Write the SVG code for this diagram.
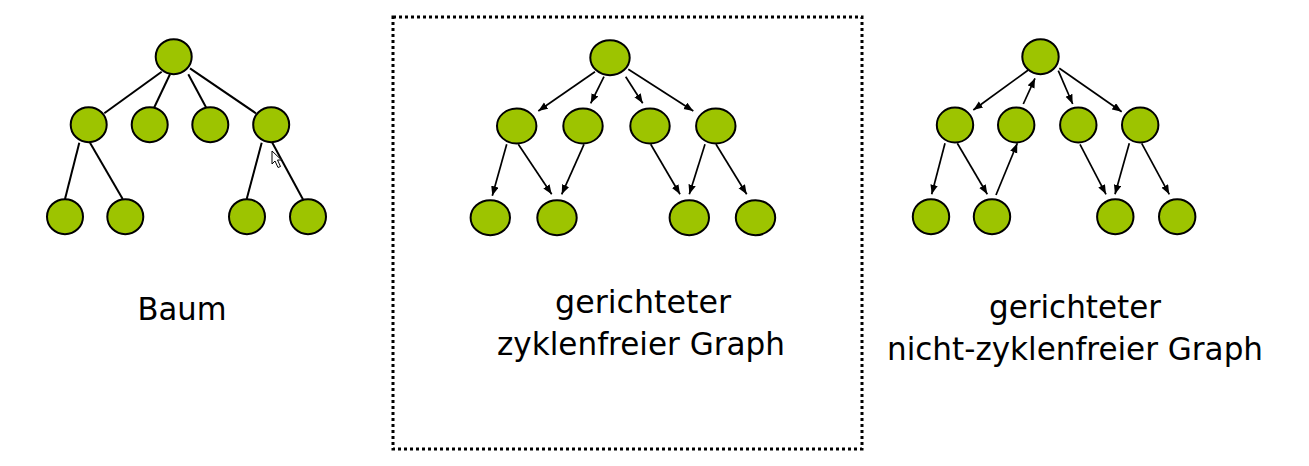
<svg xmlns="http://www.w3.org/2000/svg" width="1309" height="466" viewBox="0 0 1309 466">
<style>
.n{fill:#9dc400;stroke:#000;stroke-width:2}
.e{stroke:#000;stroke-width:2;fill:none}
.d{stroke:#000;stroke-width:1.7;fill:none;marker-end:url(#ah)}
.t{font-family:"DejaVu Sans",Verdana,sans-serif;font-size:32.5px;fill:#000;text-anchor:middle}
</style>
<defs>
<marker id="ah" markerUnits="userSpaceOnUse" markerWidth="11" markerHeight="8" refX="9.5" refY="3.75" orient="auto">
<path d="M0,0 L9.5,3.75 L0,7.5 z" fill="#000"/>
</marker>
</defs>
<rect x="0" y="0" width="1309" height="466" fill="#fff"/>
<rect x="393" y="17" width="469" height="432" fill="none" stroke="#000" stroke-width="3" stroke-dasharray="3 3"/>
<g id="connectors">
<line class="e" x1="161.7" y1="71.7" x2="104.3" y2="113.3"/>
<line class="e" x1="170" y1="74.3" x2="154.3" y2="107.3"/>
<line class="e" x1="188.3" y1="74.3" x2="206" y2="107.3"/>
<line class="e" x1="190" y1="68.3" x2="256" y2="113.3"/>
<line class="e" x1="79.3" y1="142.7" x2="65" y2="199"/>
<line class="e" x1="90" y1="142.7" x2="122.7" y2="199"/>
<line class="e" x1="261.7" y1="142.7" x2="246.7" y2="199"/>
<line class="e" x1="272.3" y1="142.7" x2="303.3" y2="200"/>
<line class="d" x1="595" y1="71.7" x2="538.3" y2="111"/>
<line class="d" x1="604" y1="76.7" x2="590.7" y2="103.3"/>
<line class="d" x1="625.7" y1="76.7" x2="642.7" y2="103.3"/>
<line class="d" x1="628.3" y1="69.3" x2="693.3" y2="111"/>
<line class="d" x1="506.7" y1="144.3" x2="492.3" y2="195.7"/>
<line class="d" x1="518.3" y1="144.3" x2="551.7" y2="194.3"/>
<line class="d" x1="584" y1="144.3" x2="561.7" y2="194.3"/>
<line class="d" x1="650.7" y1="144.3" x2="680" y2="194.3"/>
<line class="d" x1="705" y1="144.3" x2="689.3" y2="194.3"/>
<line class="d" x1="716" y1="144.3" x2="746.7" y2="194.3"/>
<line class="d" x1="1028.3" y1="70" x2="973.3" y2="110"/>
<line class="d" x1="1023.3" y1="104" x2="1035" y2="78.3"/>
<line class="d" x1="1058.3" y1="70.7" x2="1072.7" y2="104"/>
<line class="d" x1="1059.3" y1="68.3" x2="1121.7" y2="111.7"/>
<line class="d" x1="945" y1="143.3" x2="931.7" y2="194.3"/>
<line class="d" x1="957.3" y1="143.3" x2="987.3" y2="194.3"/>
<line class="d" x1="996" y1="195" x2="1017.3" y2="143.3"/>
<line class="d" x1="1080" y1="144.3" x2="1106" y2="194.3"/>
<line class="d" x1="1129.3" y1="143.3" x2="1115" y2="194.3"/>
<line class="d" x1="1141.7" y1="143.3" x2="1169.3" y2="194.3"/>
</g>
<g id="tree">
<g id="t-root"><ellipse class="n" cx="173.7" cy="56.7" rx="18" ry="17.5"/></g>
<g id="t-a"><ellipse class="n" cx="88.7" cy="124.7" rx="18" ry="17.5"/></g>
<g id="t-b"><ellipse class="n" cx="149.7" cy="124.7" rx="18" ry="17.5"/></g>
<g id="t-c"><ellipse class="n" cx="210.3" cy="124.7" rx="18" ry="17.5"/></g>
<g id="t-d"><ellipse class="n" cx="271.2" cy="124.7" rx="18" ry="17.5"/></g>
<g id="t-a1"><ellipse class="n" cx="65" cy="216.7" rx="18" ry="17.5"/></g>
<g id="t-a2"><ellipse class="n" cx="125.3" cy="216.7" rx="18" ry="17.5"/></g>
<g id="t-d1"><ellipse class="n" cx="247" cy="216.7" rx="18" ry="17.5"/></g>
<g id="t-d2"><ellipse class="n" cx="308" cy="216.7" rx="18" ry="17.5"/></g>
</g>
<g id="dag">
<g id="g-root"><ellipse class="n" cx="610" cy="57.7" rx="19.7" ry="17.5"/></g>
<g id="g-a"><ellipse class="n" cx="516.7" cy="126" rx="19.7" ry="17.5"/></g>
<g id="g-b"><ellipse class="n" cx="583" cy="126" rx="19.7" ry="17.5"/></g>
<g id="g-c"><ellipse class="n" cx="650" cy="126" rx="19.7" ry="17.5"/></g>
<g id="g-d"><ellipse class="n" cx="715.8" cy="126" rx="19.7" ry="17.5"/></g>
<g id="g-a1"><ellipse class="n" cx="490.3" cy="217.7" rx="19.7" ry="17.5"/></g>
<g id="g-a2"><ellipse class="n" cx="557" cy="217.7" rx="19.7" ry="17.5"/></g>
<g id="g-d1"><ellipse class="n" cx="689.3" cy="217.7" rx="19.7" ry="17.5"/></g>
<g id="g-d2"><ellipse class="n" cx="755.5" cy="217.7" rx="19.7" ry="17.5"/></g>
</g>
<g id="cyclic">
<g id="c-root"><ellipse class="n" cx="1040.5" cy="56.7" rx="18.2" ry="17.5"/></g>
<g id="c-a"><ellipse class="n" cx="955" cy="125" rx="18.2" ry="17.5"/></g>
<g id="c-b"><ellipse class="n" cx="1016.2" cy="125" rx="18.2" ry="17.5"/></g>
<g id="c-c"><ellipse class="n" cx="1078.3" cy="125" rx="18.2" ry="17.5"/></g>
<g id="c-d"><ellipse class="n" cx="1140.2" cy="125" rx="18.2" ry="17.5"/></g>
<g id="c-a1"><ellipse class="n" cx="931" cy="216.7" rx="18.2" ry="17.5"/></g>
<g id="c-a2"><ellipse class="n" cx="992" cy="216.7" rx="18.2" ry="17.5"/></g>
<g id="c-d1"><ellipse class="n" cx="1115.3" cy="216.7" rx="18.2" ry="17.5"/></g>
<g id="c-d2"><ellipse class="n" cx="1177.2" cy="216.7" rx="18.2" ry="17.5"/></g>
</g>
<path d="M272,151 L272,164 L275,161 L278,167.5 L280.5,166.5 L277.5,160 L281.5,160 Z" fill="#fff" stroke="#000" stroke-width="1"/>
<g id="labels">
<text class="t" x="182" y="320" textLength="89" lengthAdjust="spacingAndGlyphs">Baum</text>
<text class="t" x="643" y="313" textLength="176" lengthAdjust="spacingAndGlyphs">gerichteter</text>
<text class="t" x="641" y="355" textLength="288" lengthAdjust="spacingAndGlyphs">zyklenfreier Graph</text>
<text class="t" x="1075" y="318" textLength="172" lengthAdjust="spacingAndGlyphs">gerichteter</text>
<text class="t" x="1075" y="360" textLength="376" lengthAdjust="spacingAndGlyphs">nicht-zyklenfreier Graph</text>
</g>
</svg>
